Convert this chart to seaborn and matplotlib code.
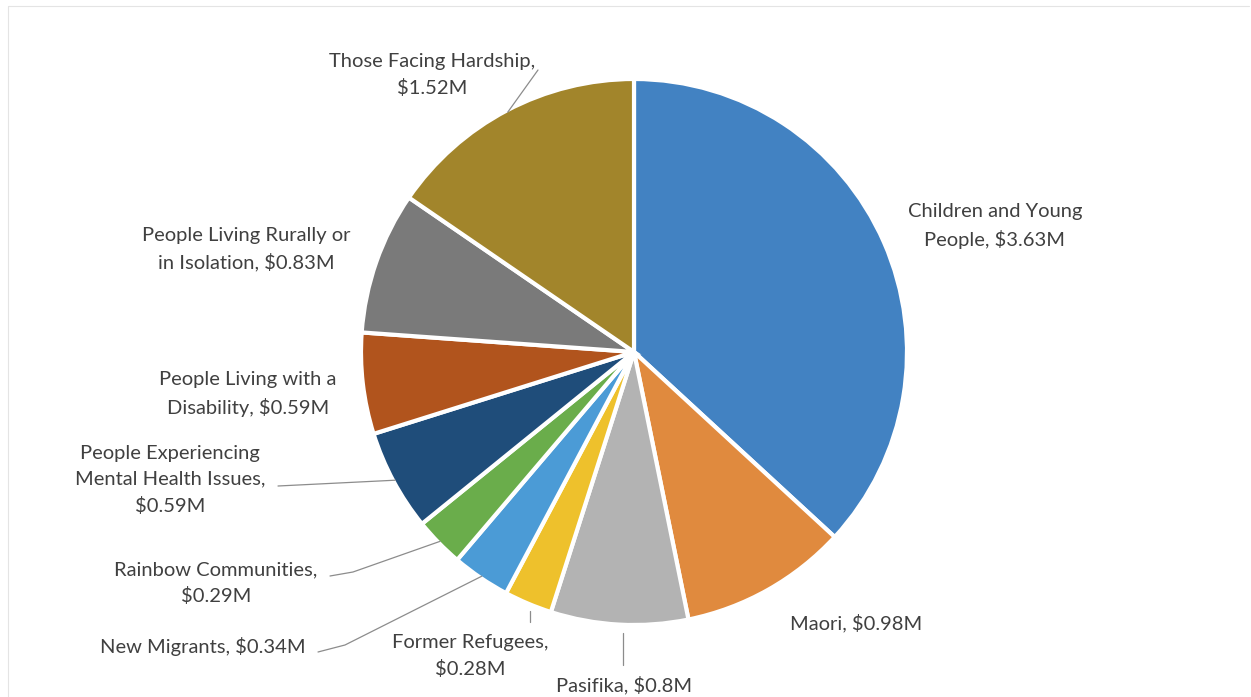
import numpy as np
import matplotlib
matplotlib.use("Agg")
import matplotlib.pyplot as plt
import seaborn as sns

categories = ["Children and Young People", "Maori", "Pasifika", "Former Refugees",
              "New Migrants", "Rainbow Communities",
              "People Experiencing Mental Health Issues",
              "People Living with a Disability",
              "People Living Rurally or in Isolation", "Those Facing Hardship"]
values = [3.63, 0.98, 0.8, 0.28, 0.34, 0.29, 0.59, 0.59, 0.83, 1.52]
label_texts = ["Children and Young\nPeople, $3.63M", "Maori, $0.98M", "Pasifika, $0.8M",
               "Former Refugees,\n$0.28M", "New Migrants, $0.34M",
               "Rainbow Communities,\n$0.29M",
               "People Experiencing\nMental Health Issues,\n$0.59M",
               "People Living with a\nDisability, $0.59M",
               "People Living Rurally or\nin Isolation, $0.83M",
               "Those Facing Hardship,\n$1.52M"]
colors = ["#4282c2", "#e08a3e", "#b3b3b3", "#eec12c", "#4b9bd6", "#6aad4b",
          "#1f4d7a", "#b1541d", "#7a7a7a", "#a2852b"]

sns.set_theme(style="white")
plt.rcParams['font.family'] = ['Lato', 'DejaVu Sans']

W, H = 1251, 697
fig = plt.figure(figsize=(W / 100, H / 100), dpi=100)
ax = fig.add_axes([0, 0, 1, 1])
ax.set_xlim(0, W)
ax.set_ylim(0, H)
ax.axis("off")

cx, cy, R = 634, H - 352, 273
wedges, _ = ax.pie(values, colors=colors, startangle=90, counterclock=False,
                   center=(cx, cy), radius=R,
                   wedgeprops=dict(edgecolor="white", linewidth=3))
ax.set_xlim(0, W)
ax.set_ylim(0, H)
ax.set_aspect("equal")

# label layout: (text x, text y from top, ha, leader end point or None, leader mid point or None)
layout = {
    0: (995, 226, "center", None, None),
    1: (856, 623, "center", None, None),
    2: (624, 685, "center", (623, 665), None),
    3: (470, 656, "center", (530, 622), None),
    4: (203, 647, "center", (318, 652), (345, 645)),
    5: (216, 583, "center", (330, 576), (353, 572)),
    6: (170, 480, "center", (278, 486), None),
    7: (248, 394, "center", None, None),
    8: (246, 249, "center", None, None),
    9: (432, 75, "center", (538, 70), None),
}

total = sum(values)
cum = np.cumsum([0] + values)
txtcolor = "#404040"
for i, (x, ytop, ha, lend, lmid) in layout.items():
    ax.text(x, H - ytop, label_texts[i], ha=ha, va="center", fontsize=14.5,
            color=txtcolor, linespacing=1.6)
    if lend is not None:
        frac = (cum[i] + values[i] / 2) / total
        ang = np.deg2rad(90 - 360 * frac)
        rr = R + (8 if i in (2, 3) else -2)
        px, py = cx + rr * np.cos(ang), cy + rr * np.sin(ang)
        if i in (2, 3):
            px = lend[0]
        pts = [(px, py)]
        if lmid is not None:
            pts.append((lmid[0], H - lmid[1]))
        pts.append((lend[0], H - lend[1]))
        xs, ys = zip(*pts)
        ax.plot(xs, ys, color="#8c8c8c", lw=0.9)

# faint frame
ax.plot([8, W - 2], [H - 6, H - 6], color="#e4e4e4", lw=0.8)
ax.plot([8, 8], [0, H - 6], color="#e4e4e4", lw=0.8)

fig.savefig("out.png", dpi=100, facecolor="white")
